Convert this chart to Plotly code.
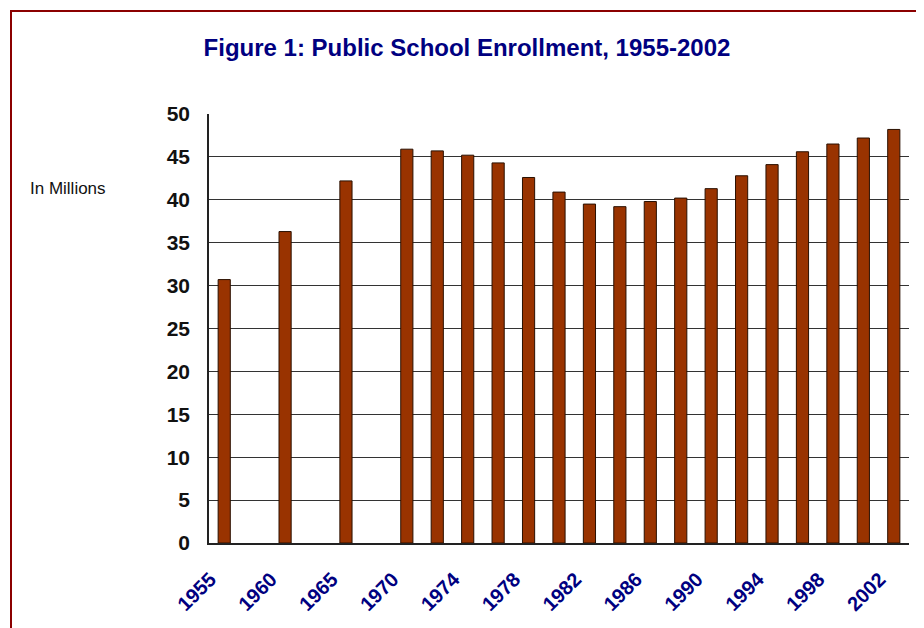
import plotly.graph_objects as go

# Data
years = ["1955", "1960", "1965", "1970", "1972", "1974", "1976", "1978", "1980",
         "1982", "1984", "1986", "1988", "1990", "1992", "1994", "1996", "1998",
         "2000", "2002"]
enrollment = [30.7, 36.3, 42.2, 45.9, 45.7, 45.2, 44.3, 42.6, 40.9,
              39.5, 39.2, 39.8, 40.2, 41.3, 42.8, 44.1, 45.6, 46.5,
              47.2, 48.2]
# full category slots (empty slots between early years)
slots = ["1955", "1957", "1960", "1962", "1965", "1967", "1970", "1972", "1974",
         "1976", "1978", "1980", "1982", "1984", "1986", "1988", "1990", "1992",
         "1994", "1996", "1998", "2000", "2002"]
tick_labels = ["1955", "1960", "1965", "1970", "1974", "1978", "1982", "1986",
               "1990", "1994", "1998", "2002"]
y_ticks = [0, 5, 10, 15, 20, 25, 30, 35, 40, 45, 50]

OFF = 8  # page body margin
W, H = 924 - OFF, 628 - OFF
ml, mt = 209 - OFF, 114 - OFF
mr = W - (909 - OFF)
mb = H - (543 - OFF)
pw, ph = W - ml - mr, H - mt - mb

def px_x(x):
    return (x - OFF - ml) / pw

def px_y(y):
    return (H - mb - (y - OFF)) / ph

fig = go.Figure()
fig.add_trace(go.Bar(
    x=years, y=enrollment, width=0.4,
    marker=dict(color="#993300", line=dict(color="#2a1000", width=1)),
))

fig.update_layout(
    width=W, height=H,
    margin=dict(l=ml, r=mr, t=mt, b=mb),
    paper_bgcolor="white", plot_bgcolor="white",
    showlegend=False,
    font=dict(family="Liberation Sans, Arial, sans-serif"),
    title=dict(
        text="<b>Figure 1: Public School Enrollment, 1955-2002</b>",
        x=px_x(467), xref="paper", xanchor="center",
        y=1 - (48 - OFF) / H, yanchor="middle",
        font=dict(size=24, color="#000080", family="Liberation Sans, Arial, sans-serif"),
    ),
    xaxis=dict(
        type="category", categoryorder="array", categoryarray=slots,
        range=[-0.5, len(slots) - 0.5],
        tickmode="array", tickvals=tick_labels, ticktext=[f"<b>{t}</b>" for t in tick_labels],
        tickangle=-45,
        tickfont=dict(size=20, color="#000080"),
        ticklabelshift=-14, ticklabelstandoff=9,
        showgrid=False, showline=True, linecolor="#222222", linewidth=1.5,
        ticks="outside", ticklen=6, tickcolor="rgba(0,0,0,0)",
        zeroline=False,
    ),
    yaxis=dict(
        range=[0, 50], tickmode="array", tickvals=y_ticks,
        ticktext=[f"<b>{v}</b>" for v in y_ticks],
        tickfont=dict(size=21, color="#111111"),
        showgrid=True, gridcolor="#333333", gridwidth=1.3,
        showline=True, linecolor="#222222", linewidth=1.5,
        ticks="outside", ticklen=13, tickcolor="rgba(0,0,0,0)",
        zeroline=False,
    ),
    annotations=[dict(
        text="In Millions", xref="paper", yref="paper",
        x=px_x(28), y=px_y(188), xanchor="left", yanchor="middle",
        showarrow=False, font=dict(size=17, color="#111111"),
    )],
    shapes=[dict(
        type="rect", xref="paper", yref="paper",
        x0=px_x(11), x1=px_x(921), y0=px_y(11), y1=px_y(660),
        line=dict(color="#8b0000", width=2), fillcolor="rgba(0,0,0,0)",
        layer="above",
    )],
)

fig.write_html("out.html")
